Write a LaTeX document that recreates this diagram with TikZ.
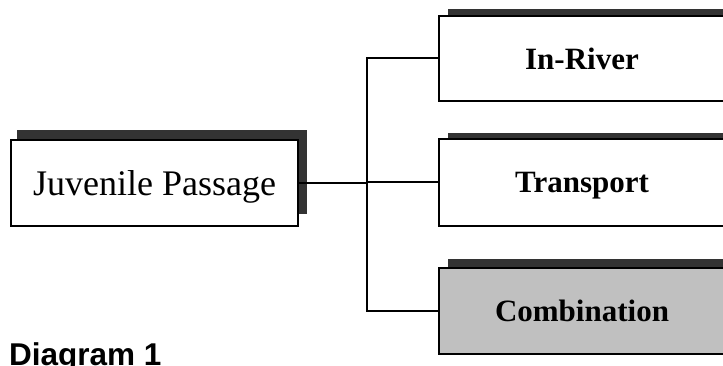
\documentclass[tikz,border=0pt]{standalone}
\usepackage{fontspec}
\setmainfont{Liberation Serif}
\newfontfamily\capfont{Liberation Sans}
\usetikzlibrary{calc}
\begin{document}
\begin{tikzpicture}[x=1pt,y=-1pt,
  boxnode/.style={draw=black, line width=2pt, fill=white, inner sep=0pt,
    text depth=0pt, minimum width=287pt},
  bold label/.style={font=\fontsize{31}{37}\selectfont\bfseries},
  main label/.style={font=\fontsize{36}{43}\selectfont},
  shadowfill/.style={fill=black!80},
  link/.style={draw=black, line width=2pt}]
\useasboundingbox (0,0) rectangle (723,366);
\clip (0,0) rectangle (723,366);
% invisible placeholders fixing the box geometry
\path (154.5,183) node[boxnode, draw=none, fill=none, minimum height=86pt, main label] (jp) {\phantom{Juvenile Passage}};
\path (582,58.5) node[boxnode, draw=none, fill=none, minimum height=85pt, bold label] (ir) {\phantom{In-River}};
\path (582,182.5) node[boxnode, draw=none, fill=none, minimum height=87pt, bold label] (tr) {\phantom{Transport}};
\path (582,311) node[boxnode, draw=none, fill=none, minimum height=86pt, bold label] (cb) {\phantom{Combination}};
% shadows
\fill[shadowfill] ($(jp.north west)+(7,-9)$) rectangle ($(jp.south east)+(8,-13)$);
\fill[shadowfill] ($(ir.north west)+(10,-6)$) rectangle ($(ir.south east)+(10,-10)$);
\fill[shadowfill] ($(tr.north west)+(10,-5)$) rectangle ($(tr.south east)+(10,-10)$);
\fill[shadowfill] ($(cb.north west)+(10,-8)$) rectangle ($(cb.south east)+(10,-10)$);
% boxes on top
\node[boxnode, minimum height=86pt, main label] (jpbox) at (jp) {Juvenile Passage};
\node[boxnode, minimum height=85pt, bold label] (irbox) at (ir) {In-River};
\node[boxnode, minimum height=87pt, bold label] (trbox) at (tr) {Transport};
\node[boxnode, minimum height=86pt, bold label, fill={rgb,255:red,192;green,192;blue,192}] (cbbox) at (cb) {Combination};
% connectors
\coordinate (top) at (367,58.5);
\coordinate (bot) at (367,311);
\draw[link] (jpbox.east) -- (jpbox.east -| top);
\draw[link] (irbox.west) -- (top) -- (bot) -- (cbbox.west);
\draw[link] (trbox.west) -- (trbox.west -| top);
% caption
\node[anchor=base west, inner sep=0pt, font=\capfont\fontsize{31.5}{38}\selectfont\bfseries] (cap) at (9,365.5) {Diagram 1};
\end{tikzpicture}
\end{document}
